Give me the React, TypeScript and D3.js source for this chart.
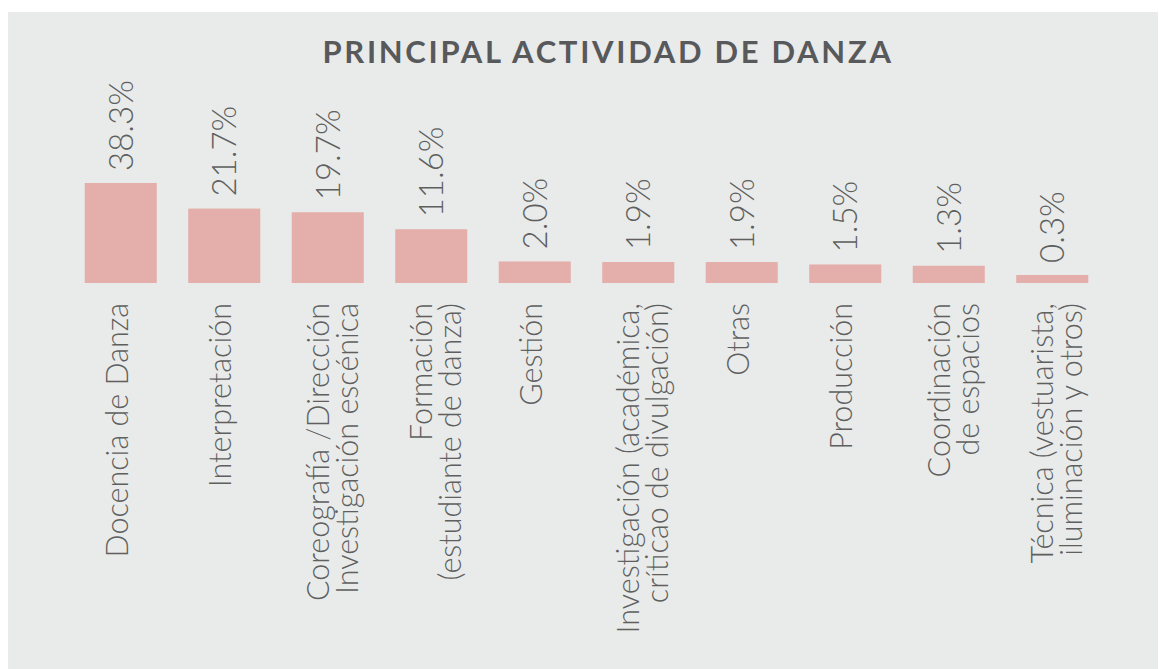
import React from "react";
import * as d3 from "d3";

const title = "PRINCIPAL ACTIVIDAD DE DANZA";
const categories: string[][] = [
  ["Docencia de Danza"],
  ["Interpretación"],
  ["Coreografía /Dirección", "Investigación escénica"],
  ["Formación", "(estudiante de danza)"],
  ["Gestión"],
  ["Investigación (académica,", "críticao de divulgación)"],
  ["Otras"],
  ["Producción"],
  ["Coordinación", "de espacios"],
  ["Técnica (vestuarista,", "iluminación y otros)"],
];
const values = [38.3, 21.7, 19.7, 11.6, 2.0, 1.9, 1.9, 1.5, 1.3, 0.3];

const W = 1158;
const H = 661;
const FONT = "Lato, 'Open Sans', sans-serif";
const TEXT = "#5e6060";

export default function App() {
  const ids = categories.map((_, i) => String(i));
  const x = d3.scaleBand<string>().domain(ids).range([61, 1096]).paddingInner(0.304).paddingOuter(0.152);
  const baseY = 275;
  const y = d3.scalePow().exponent(0.52).domain([0, 38.3]).range([baseY, 175]);

  return (
    <svg width={W} height={H} style={{ display: "block" }}>
      <rect x={0} y={4} width={W} height={H - 4} fill="#e9ebea" />
      <text x={600} y={55} textAnchor="middle" fontFamily={FONT} fontWeight={700} fontSize={31} letterSpacing={2.7} fill="#58595b">
        {title}
      </text>
      {values.map((v, i) => {
        const bx = x(ids[i])!;
        const cx = bx + x.bandwidth() / 2;
        const top = y(v);
        const lines = categories[i];
        return (
          <g key={i}>
            <rect x={bx} y={top} width={x.bandwidth()} height={baseY - top} fill="#e4aeab" />
            <text
              transform={`translate(${cx + 12},${top - 12}) rotate(-90)`}
              fontFamily={FONT}
              fontWeight={300}
              fontSize={33}
              fill={TEXT}
            >
              {d3.format(".1f")(v) + "%"}
            </text>
            {lines.map((ln, j) => {
              const off = lines.length === 1 ? 7 : j === 0 ? 1 : 30;
              return (
                <text
                  key={j}
                  transform={`translate(${cx + off},${baseY + 20}) rotate(-90)`}
                  textAnchor="end"
                  fontFamily={FONT}
                  fontWeight={300}
                  fontSize={30.5}
                  fill={TEXT}
                >
                  {ln}
                </text>
              );
            })}
          </g>
        );
      })}
    </svg>
  );
}
